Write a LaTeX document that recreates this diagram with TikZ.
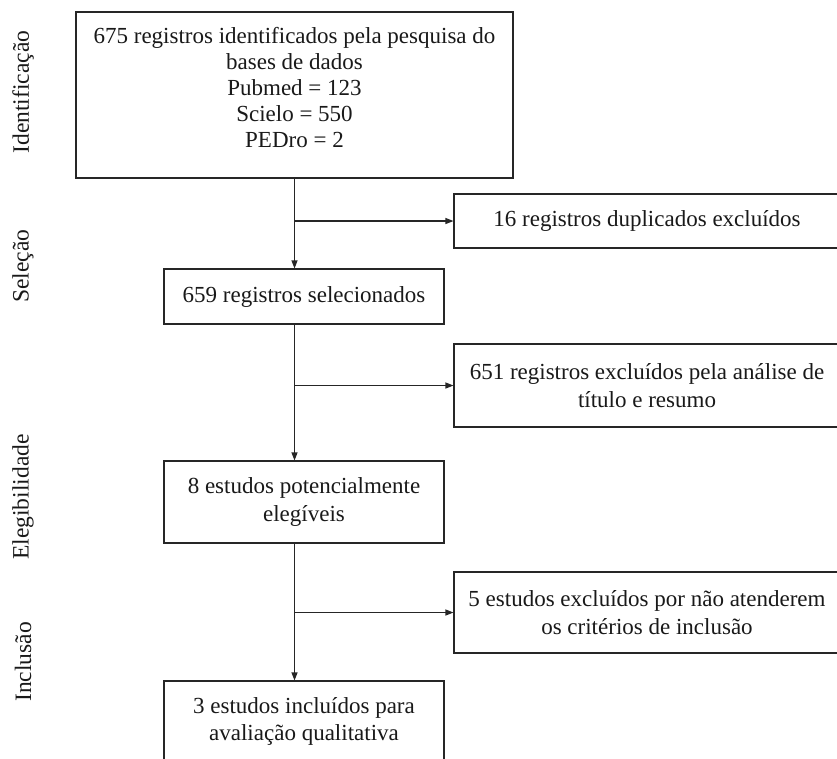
\documentclass[tikz,border=0pt]{standalone}
\usepackage{fontspec}
\setmainfont{Liberation Serif}
\usetikzlibrary{arrows.meta}
\begin{document}
\begin{tikzpicture}[x=1pt,y=-1pt,
  box/.style={draw=black!85, line width=1.1pt, align=center, inner sep=0pt, text=black!90, font=\fontsize{23}{27.5}\selectfont},
  boxtext/.style={align=center, inner sep=0pt, text=black!90, font=\fontsize{23}{26.2}\selectfont},
  phase/.style={rotate=90, inner sep=0pt, text=black!90, font=\fontsize{23.5}{26}\selectfont},
  link/.style={draw=black!85, line width=1.1pt},
  arr/.style={link, -{Triangle[length=8pt,width=6pt]}}]
\fill[white] (0,0) rectangle (837,758);
\useasboundingbox (0,0) rectangle (837,758);

% phase labels
\node[phase] (p1) at (23,92) {Identificação};
\node[phase] (p2) at (23,266) {Seleção};
\node[phase] (p3) at (23,497) {Elegibilidade};
\node[phase] (p4) at (23,662) {Inclusão};

% main column
\node[box, minimum width=437pt, minimum height=166pt] (top) at (294.5,95) {};
\node[boxtext] (toptext) at (294.5,87.5) {675 registros identificados pela pesquisa do\\bases de dados\\Pubmed = 123\\Scielo = 550\\PEDro = 2};
\node[box, minimum width=280pt, minimum height=55pt] (b659) at (304,296.5) {659 registros selecionados};
\node[box, minimum width=280pt, minimum height=82pt] (b8) at (304,502) {8 estudos potencialmente\\elegíveis};
\node[box, minimum width=280pt, minimum height=81pt] (b3) at (304,721.5) {3 estudos incluídos para\\avaliação qualitativa};

% side boxes
\node[box, minimum width=386pt, minimum height=54pt] (s1) at (647,221) {16 registros duplicados excluídos};
\node[box, minimum width=386pt, minimum height=83pt] (s2) at (647,385.5) {651 registros excluídos pela análise de\\título e resumo};
\node[box, minimum width=386pt, minimum height=81pt] (s3) at (647,612.5) {5 estudos excluídos por não atenderem\\os critérios de inclusão};

% spine coordinates
\coordinate (j1) at (top.south |- s1.west);
\coordinate (j2) at (top.south |- s2.west);
\coordinate (j3) at (top.south |- s3.west);

% connectors
\draw[arr] (top.south) -- (top.south |- b659.north);
\draw[arr] (j1) -- (s1.west);
\draw[arr] (top.south |- b659.south) -- (top.south |- b8.north);
\draw[arr] (j2) -- (s2.west);
\draw[arr] (top.south |- b8.south) -- (top.south |- b3.north);
\draw[arr] (j3) -- (s3.west);
\end{tikzpicture}
\end{document}
